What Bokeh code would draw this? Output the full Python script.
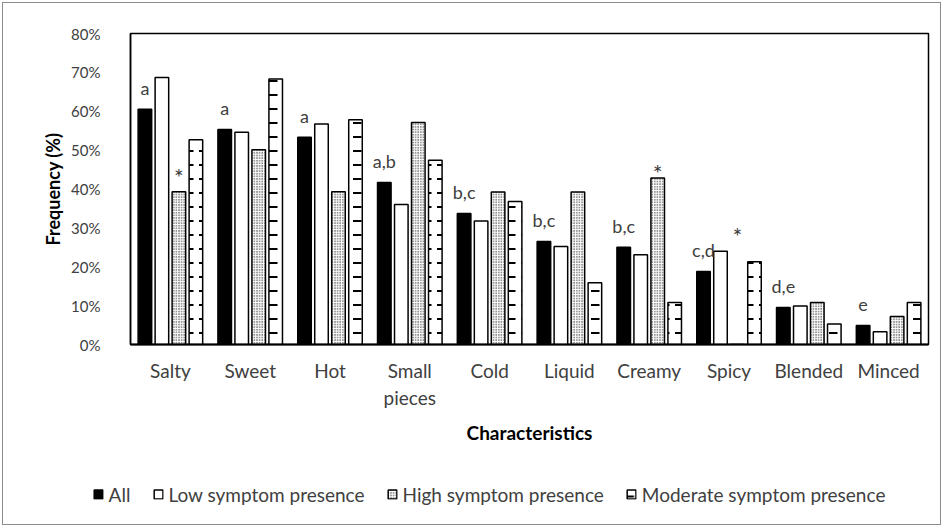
from bokeh.plotting import figure
from bokeh.layouts import column
from bokeh.models import (Legend, LegendItem, FixedTicker, PrintfTickFormatter,
                          ColumnDataSource, Range1d)
from bokeh.core.properties import value
from bokeh.embed import file_html
from bokeh.resources import INLINE

# ---- data ----
categories = ["Salty", "Sweet", "Hot", "Small\npieces", "Cold", "Liquid",
              "Creamy", "Spicy", "Blended", "Minced"]
all_vals = [60.5, 55.3, 53.3, 41.7, 33.7, 26.5, 25.0, 18.8, 9.5, 4.9]
low_vals = [68.7, 54.6, 56.7, 36.0, 31.8, 25.2, 23.1, 24.0, 9.9, 3.3]
high_vals = [39.3, 50.1, 39.3, 57.1, 39.2, 39.2, 42.8, 0.0, 10.8, 7.2]
mod_vals = [52.7, 68.3, 57.8, 47.4, 36.8, 15.9, 10.8, 21.3, 5.3, 10.8]
series_names = ["All", "Low symptom presence", "High symptom presence",
                "Moderate symptom presence"]
letters = ["a", "a", "a", "a,b", "b,c", "b,c", "b,c", "c,d", "d,e", "e"]
star_cats = [0, 6, 7]
star_levels = [43.0, 44.0, 28.0]
y_ticks = [0, 10, 20, 30, 40, 50, 60, 70, 80]

FONT = "Lato"
BW = 0.17
STEP = 0.213
TXT = "#404040"

H_MAIN = 461
H_LEG = 60

p = figure(width=937, height=H_MAIN, x_range=Range1d(0, 10), y_range=Range1d(0, 80),
           output_backend="svg", toolbar_location=None,
           min_border_left=127, min_border_right=12, min_border_top=30,
           min_border_bottom=H_MAIN - 341)
p.background_fill_color = "white"
p.border_fill_color = "white"
p.outline_line_color = "black"
p.outline_line_width = 1.5
p.xgrid.visible = False
p.ygrid.visible = False

centers = [i + 0.5 for i in range(len(categories))]
series = [all_vals, low_vals, high_vals, mod_vals]
styles = [
    dict(fill_color="black"),
    dict(fill_color="white"),
    dict(fill_color="white", hatch_pattern="dot", hatch_scale=2.6, hatch_weight=1.8,
         hatch_color="black"),
    dict(fill_color="white", hatch_pattern="horizontal_dash", hatch_scale=14,
         hatch_weight=2, hatch_color="black"),
]
sources = []
for k, (vals, st) in enumerate(zip(series, styles)):
    off = (k - 1.5) * STEP
    src = ColumnDataSource(dict(x=[c + off for c in centers], top=vals))
    sources.append(src)
    p.vbar(x="x", top="top", width=BW, source=src, line_color="black",
           line_width=1.5, **st)

# letters above "All" bars
lsrc = ColumnDataSource(dict(x=[c - 1.5 * STEP for c in centers],
                             y=[v + 5.5 for v in all_vals], t=letters))
p.text(x="x", y="y", text="t", source=lsrc, text_align="center",
       text_baseline="alphabetic", text_font=value(FONT), text_font_size="18px",
       text_color=TXT)

# asterisks above high-symptom bars
ssrc = ColumnDataSource(dict(x=[centers[i] + 0.5 * STEP for i in star_cats],
                             y=star_levels, t=["*"] * len(star_cats)))
p.text(x="x", y="y", text="t", source=ssrc, text_align="center",
       text_baseline="alphabetic", text_font=value(FONT), text_font_size="23px",
       text_color=TXT)

# axes
p.yaxis.ticker = FixedTicker(ticks=y_ticks)
p.yaxis.formatter = PrintfTickFormatter(format="%d%%")
p.yaxis.major_tick_line_color = None
p.yaxis.minor_tick_line_color = None
p.yaxis.axis_line_color = "black"
p.yaxis.axis_line_width = 1.5
p.yaxis.major_label_standoff = 24
p.yaxis.major_label_text_font = FONT
p.yaxis.major_label_text_font_size = "15px"
p.yaxis.major_label_text_color = TXT
p.yaxis.axis_label = "Frequency (%)"
p.yaxis.axis_label_text_font = FONT
p.yaxis.axis_label_text_font_size = "18px"
p.yaxis.axis_label_text_font_style = "bold"
p.yaxis.axis_label_text_color = "black"
p.yaxis.axis_label_standoff = 4

p.xaxis.ticker = FixedTicker(ticks=centers)
p.xaxis.major_label_overrides = {c: n for c, n in zip(centers, categories)}
p.xaxis.major_tick_line_color = None
p.xaxis.minor_tick_line_color = None
p.xaxis.axis_line_color = "black"
p.xaxis.axis_line_width = 2
p.xaxis.major_label_standoff = 8
p.xaxis.major_label_text_font = FONT
p.xaxis.major_label_text_font_size = "19px"
p.xaxis.major_label_text_color = TXT
p.xaxis.axis_label = "Characteristics"
p.xaxis.axis_label_text_font = FONT
p.xaxis.axis_label_text_font_size = "19px"
p.xaxis.axis_label_text_font_style = "bold"
p.xaxis.axis_label_text_color = "black"
p.xaxis.axis_label_standoff = 9

# ---- legend strip (separate figure under the chart, sharing the bar sources;
#      its bar renderers are hidden, only their legend swatches are shown) ----
q = figure(width=937, height=H_LEG, x_range=Range1d(0, 10), y_range=Range1d(0, 80),
           output_backend="svg", toolbar_location=None,
           x_axis_type=None, y_axis_type=None, min_border=0)
q.outline_line_color = None
q.xgrid.visible = False
q.ygrid.visible = False
q.background_fill_alpha = 0
q.border_fill_alpha = 0
q.styles = {"transform": "translateX(-40px)"}
leg_renderers = []
for src, st in zip(sources, styles):
    r = q.vbar(x="x", top="top", width=BW, source=src, line_color="black",
               line_width=1.5, **st)
    r.visible = False
    leg_renderers.append(r)

legend = Legend(items=[LegendItem(label=n, renderers=[r])
                       for n, r in zip(series_names, leg_renderers)],
                orientation="horizontal", location="center",
                glyph_width=11, glyph_height=11, label_standoff=5, spacing=22,
                padding=0, margin=0, border_line_alpha=0,
                background_fill_alpha=0, inactive_fill_alpha=0,
                label_text_font=FONT,
                label_text_font_size="19px", label_text_color=TXT)
q.add_layout(legend)

layout = column(p, q, spacing=0)
layout.styles = {"border": "1px solid #8c8c8c", "margin": "2px"}

open("out.html", "w").write(file_html(layout, INLINE))
